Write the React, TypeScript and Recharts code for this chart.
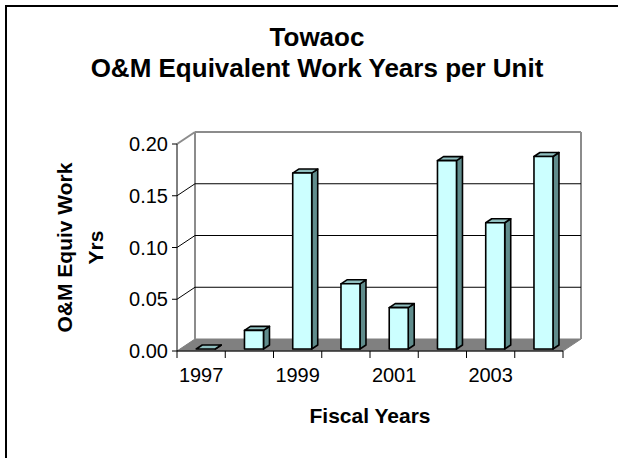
import React from "react";
import { BarChart, Bar, XAxis, YAxis, CartesianGrid } from "recharts";

const years = ["1997", "1998", "1999", "2000", "2001", "2002", "2003", "2004"];
const workYears = [0, 0.018, 0.17, 0.063, 0.04, 0.182, 0.122, 0.186];
const yTicks = [0, 0.05, 0.1, 0.15, 0.2];

const data = years.map((year, i) => ({ year, value: workYears[i] }));

const FONT = "'Liberation Sans', Arial, Helvetica, sans-serif";

// depth of the back wall / floor, and of each bar
const DX = 18;
const DY = -12;
const BAR_DX = 6;
const BAR_DY = -4;

const X_TICK_SIZE = 7;
const X_TICK_MARGIN = 10;

const WALL = "#8c8c8c";

// horizontal grid lines drawn as the left wall + back wall of the 3D box
function WallLine(props: any) {
  const { x1, x2, y1, y, height, index } = props;
  const isFloor = Math.abs(y1 - (y + height)) < 0.5;
  const isTop = Math.abs(y1 - y) < 0.5;

  if (isFloor) {
    return (
      <g key={`wall-${index}`}>
        <polygon
          points={`${x1},${y1} ${x2},${y1} ${x2 + DX},${y1 + DY} ${x1 + DX},${y1 + DY}`}
          fill="#808080"
          stroke="#808080"
          strokeWidth={1}
        />
        <line x1={x1 + DX} y1={y + DY} x2={x1 + DX} y2={y1 + DY} stroke={WALL} strokeWidth={2} />
        <line x1={x2 + DX} y1={y + DY} x2={x2 + DX} y2={y1 + DY} stroke={WALL} strokeWidth={2} />
      </g>
    );
  }

  const color = isTop ? WALL : "#000";
  const w = isTop ? 2 : 1;
  return (
    <g key={`wall-${index}`}>
      <line x1={x1} y1={y1} x2={x1 + DX} y2={y1 + DY} stroke={color} strokeWidth={w} />
      <line x1={x1 + DX} y1={y1 + DY} x2={x2 + DX} y2={y1 + DY} stroke={color} strokeWidth={w} />
    </g>
  );
}

function Bar3D(props: any) {
  const { x, y, width, height } = props;
  if (x == null || y == null) return null;
  const sx = x + width * 0.25;
  const sy = y - 2;
  const h = Math.max(0, height);
  return (
    <g stroke="#000" strokeWidth={1.6} strokeLinejoin="round">
      <polygon
        points={`${sx + width},${sy} ${sx + width + BAR_DX},${sy + BAR_DY} ${sx + width + BAR_DX},${sy + h + BAR_DY} ${sx + width},${sy + h}`}
        fill="#608c8c"
      />
      <polygon
        points={`${sx},${sy} ${sx + BAR_DX},${sy + BAR_DY} ${sx + width + BAR_DX},${sy + BAR_DY} ${sx + width},${sy}`}
        fill="#8fbfbf"
      />
      {h > 0 && <rect x={sx} y={sy} width={width} height={h} fill="#ccffff" />}
    </g>
  );
}

// category labels on every other year, tick marks on the category boundaries
function YearTick(props: any) {
  const { x, y, payload, index, visibleTicksCount } = props;
  const half = payload?.offset ?? 0;
  const axisY = y - X_TICK_SIZE - X_TICK_MARGIN;
  const isLast = index === visibleTicksCount - 1;
  return (
    <g>
      <line x1={x - half} y1={axisY} x2={x - half} y2={axisY + X_TICK_SIZE} stroke="#000" />
      {isLast && (
        <line x1={x + half} y1={axisY} x2={x + half} y2={axisY + X_TICK_SIZE} stroke="#000" />
      )}
      {index % 2 === 0 && (
        <text x={x} y={y} dy="0.71em" textAnchor="middle" fill="#000" fontSize={20} fontFamily={FONT}>
          {payload.value}
        </text>
      )}
    </g>
  );
}

function YTitle(props: any) {
  const vb = props.viewBox || {};
  const axisX = vb.x + vb.width;
  const cy = vb.y + vb.height / 2;
  const lines = ["O&M Equiv Work", "Yrs"];
  const baselines = [axisX - 105, axisX - 74];
  return (
    <g>
      {lines.map((t, i) => (
        <text
          key={t}
          x={baselines[i]}
          y={cy}
          transform={`rotate(-90, ${baselines[i]}, ${cy})`}
          textAnchor="middle"
          fontSize={21}
          fontWeight="bold"
          fontFamily={FONT}
          fill="#000"
        >
          {t}
        </text>
      ))}
    </g>
  );
}

function XTitle(props: any) {
  const vb = props.viewBox || {};
  return (
    <text
      x={vb.x + vb.width / 2}
      y={vb.y + 72}
      textAnchor="middle"
      fontSize={21}
      fontWeight="bold"
      fontFamily={FONT}
      fill="#000"
    >
      Fiscal Years
    </text>
  );
}

export default function App() {
  return (
    <div
      style={{
        position: "absolute",
        left: 0,
        top: 0,
        width: 618,
        height: 458,
        overflow: "hidden",
        background: "#fff",
        fontFamily: FONT,
      }}
    >
      <div
        style={{
          position: "absolute",
          left: 5,
          top: 5,
          width: 700,
          height: 600,
          border: "2px solid #000",
        }}
      />
      <div
        style={{
          position: "absolute",
          left: 0,
          top: 22,
          width: 634,
          textAlign: "center",
          fontSize: 26,
          fontWeight: "bold",
          lineHeight: "31px",
          color: "#000",
        }}
      >
        <div>Towaoc</div>
        <div>O&amp;M Equivalent Work Years per Unit</div>
      </div>
      <div style={{ position: "absolute", left: 0, top: 0 }}>
        <BarChart
          width={618}
          height={458}
          data={data}
          margin={{ top: 144, right: 55, bottom: 47, left: 97 }}
          barCategoryGap="30%"
        >
          <CartesianGrid vertical={false} horizontal={(p: any) => <WallLine {...p} />} />
          <XAxis
            dataKey="year"
            height={60}
            interval={0}
            tickLine={false}
            tickSize={X_TICK_SIZE}
            tickMargin={X_TICK_MARGIN}
            axisLine={{ stroke: "#000", strokeWidth: 1 }}
            tick={(p: any) => <YearTick {...p} />}
            label={{ content: (p: any) => <XTitle {...p} /> }}
          />
          <YAxis
            width={80}
            domain={[0, 0.2]}
            ticks={yTicks}
            interval={0}
            tickFormatter={(v: number) => v.toFixed(2)}
            tickSize={5}
            tickMargin={4}
            tickLine={{ stroke: "#000" }}
            axisLine={{ stroke: "#000", strokeWidth: 1 }}
            tick={{ fill: "#000", fontSize: 20, fontFamily: FONT }}
            label={{ content: (p: any) => <YTitle {...p} /> }}
          />
          <Bar dataKey="value" shape={(p: any) => <Bar3D {...p} />} isAnimationActive={false} />
        </BarChart>
      </div>
    </div>
  );
}
